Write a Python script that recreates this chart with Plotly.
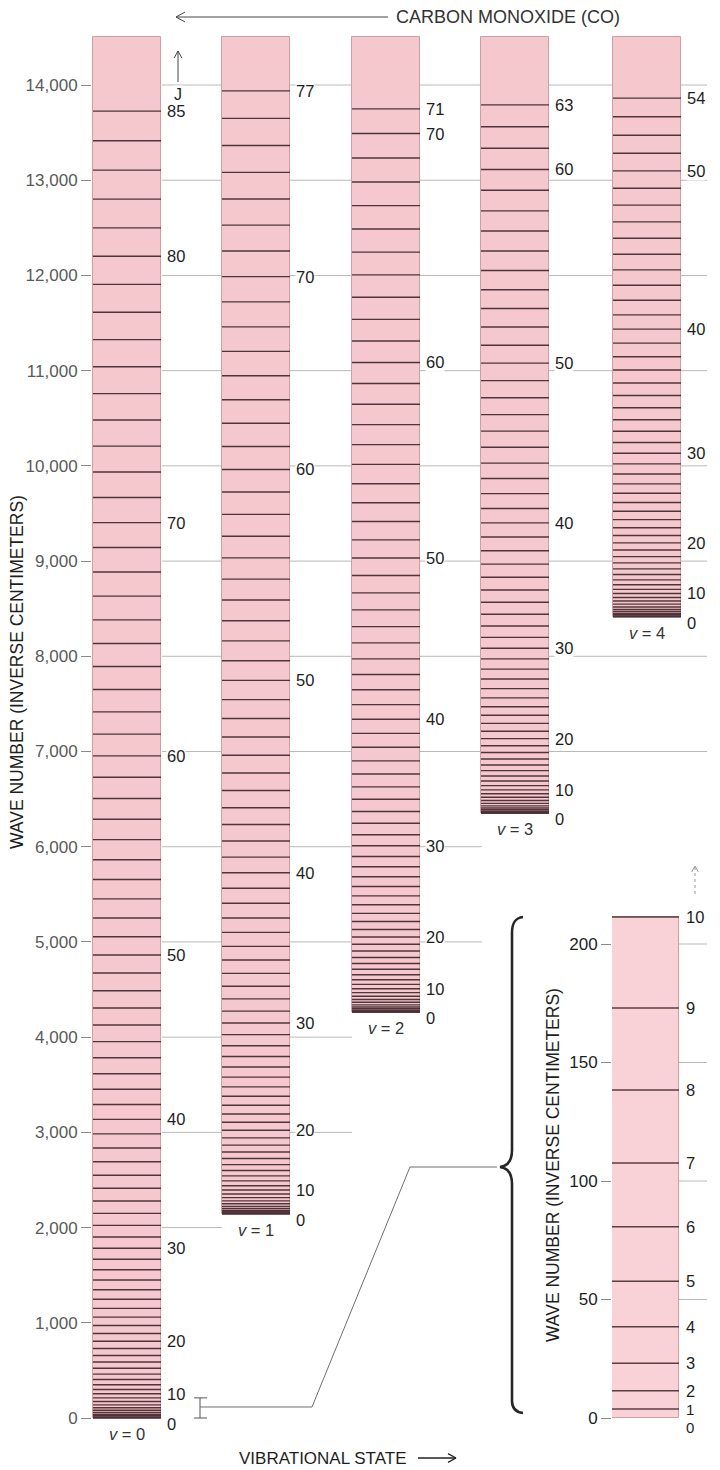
import plotly.graph_objects as go

W, H = 720, 1470

# Rotational levels (cm^-1) of carbon monoxide, J = 0 upward, per vibrational state
levels_v0 = [0, 4, 12, 23, 38, 58, 81, 108, 138, 173,
             211, 254, 300, 350, 404, 461, 523, 588, 657, 730,
             806, 887, 971, 1059, 1151, 1247, 1347, 1450, 1557, 1668,
             1783, 1901, 2023, 2149, 2279, 2413, 2550, 2691, 2836, 2984,
             3136, 3292, 3452, 3616, 3783, 3953, 4128, 4306, 4488, 4673,
             4863, 5055, 5252, 5452, 5656, 5863, 6074, 6289, 6507, 6729,
             6954, 7183, 7416, 7652, 7892, 8135, 8382, 8632, 8886, 9143,
             9404, 9668, 9936, 10207, 10481, 10759, 11041, 11326, 11614, 11906,
             12201, 12499, 12801, 13106, 13415, 13726]
levels_v1 = [2143, 2147, 2155, 2166, 2181, 2200, 2223, 2250, 2280, 2315,
             2353, 2395, 2440, 2490, 2543, 2600, 2661, 2726, 2794, 2866,
             2942, 3022, 3106, 3193, 3284, 3379, 3478, 3580, 3686, 3796,
             3910, 4027, 4148, 4273, 4402, 4534, 4670, 4810, 4953, 5100,
             5251, 5406, 5564, 5726, 5891, 6060, 6233, 6410, 6590, 6774,
             6961, 7152, 7347, 7545, 7747, 7953, 8162, 8374, 8591, 8810,
             9034, 9260, 9491, 9725, 9962, 10203, 10448, 10695, 10947, 11202,
             11460, 11722, 11987, 12256, 12528, 12803, 13082, 13364, 13650, 13938]
levels_v2 = [4260, 4264, 4271, 4283, 4298, 4317, 4339, 4366, 4396, 4430,
             4468, 4509, 4554, 4603, 4656, 4713, 4773, 4837, 4905, 4976,
             5052, 5131, 5214, 5300, 5390, 5484, 5582, 5684, 5789, 5898,
             6010, 6126, 6246, 6370, 6498, 6629, 6763, 6902, 7044, 7190,
             7339, 7492, 7649, 7809, 7973, 8141, 8312, 8487, 8666, 8848,
             9033, 9223, 9416, 9612, 9812, 10016, 10223, 10433, 10647, 10865,
             11086, 11311, 11539, 11771, 12006, 12245, 12487, 12733, 12982, 13234,
             13490, 13749]
levels_v3 = [6350, 6354, 6362, 6373, 6388, 6406, 6429, 6455, 6485, 6519,
             6556, 6597, 6642, 6691, 6743, 6799, 6859, 6922, 6989, 7060,
             7135, 7213, 7295, 7381, 7470, 7563, 7660, 7761, 7865, 7973,
             8084, 8199, 8318, 8441, 8567, 8697, 8830, 8968, 9108, 9253,
             9401, 9552, 9708, 9867, 10029, 10195, 10365, 10538, 10715, 10895,
             11079, 11267, 11458, 11652, 11850, 12052, 12257, 12466, 12678, 12894,
             13113, 13335, 13561, 13791]
levels_v4 = [8414, 8418, 8425, 8437, 8451, 8470, 8492, 8518, 8548, 8581,
             8618, 8659, 8703, 8751, 8803, 8859, 8918, 8981, 9047, 9117,
             9191, 9269, 9350, 9435, 9524, 9616, 9712, 9811, 9914, 10021,
             10132, 10246, 10364, 10485, 10610, 10739, 10871, 11007, 11146, 11289,
             11436, 11586, 11740, 11897, 12058, 12223, 12391, 12562, 12738, 12916,
             13098, 13284, 13473, 13666, 13862]
# Lowest levels of v = 0 on an expanded scale
levels_zoom = [0, 3.8, 11.5, 23.1, 38.5, 57.7, 80.7, 107.6, 138.4, 173.0, 211.4]

states = ["0", "1", "2", "3", "4"]
column_levels = [levels_v0, levels_v1, levels_v2, levels_v3, levels_v4]
column_top = 14505

# J numbers printed beside each column and the level row each one sits on
labels_v0 = [85, 80, 70, 60, 50, 40, 30, 20, 10, 0]
rows_v0 = [85, 80, 70, 60, 50, 40, 30, 20, 10, 0]
labels_v1 = [77, 70, 60, 50, 40, 30, 20, 10, 0]
rows_v1 = [79, 72, 64, 54, 43, 32, 21, 10, 0]
labels_v2 = [71, 70, 60, 50, 40, 30, 20, 10, 0]
rows_v2 = [71, 70, 60, 50, 40, 30, 20, 10, 0]
labels_v3 = [63, 60, 50, 40, 30, 20, 10, 0]
rows_v3 = [63, 60, 50, 40, 30, 20, 10, 0]
labels_v4 = [54, 50, 40, 30, 20, 10, 0]
rows_v4 = [54, 50, 40, 30, 20, 10, 0]
labels_zoom = [10, 9, 8, 7, 6, 5, 4, 3, 2, 1, 0]

main_ticks = [0, 1000, 2000, 3000, 4000, 5000, 6000, 7000, 8000, 9000,
              10000, 11000, 12000, 13000, 14000]
main_tick_text = ["0", "1,000", "2,000", "3,000", "4,000", "5,000", "6,000", "7,000",
                  "8,000", "9,000", "10,000", "11,000", "12,000", "13,000", "14,000"]
zoom_ticks = [0, 50, 100, 150, 200]

# ---- styling -------------------------------------------------------------
FONT = "Liberation Sans, Arial, Helvetica, sans-serif"
PINK = "#f5c8cd"
PINK_EDGE = "#d29ca4"
LEVEL = "#3f252b"
GRID = "#b9b9b9"
TEXT = "#1e1e1e"
TICK_TEXT = "#5a5a5a"

col_x = [127, 256, 386, 515, 647]
BAR_W = 68
zoom_x = 645.5
ZOOM_W = 67

label_sets = [(labels_v0, rows_v0), (labels_v1, rows_v1), (labels_v2, rows_v2),
              (labels_v3, rows_v3), (labels_v4, rows_v4)]


def px(x):
    return x / W


def py(y):
    return 1 - y / H


fig = go.Figure()

# pink columns
fig.add_trace(go.Bar(
    x=col_x, base=[lv[0] for lv in column_levels],
    y=[column_top - lv[0] for lv in column_levels], width=BAR_W,
    marker=dict(color=PINK, line=dict(color=PINK_EDGE, width=1)),
    hoverinfo="skip", xaxis="x", yaxis="y"))

# rotational level lines
xs, ys = [], []
for cx, lv in zip(col_x, column_levels):
    for e in lv:
        xs += [cx - BAR_W / 2, cx + BAR_W / 2, None]
        ys += [e, e, None]
fig.add_trace(go.Scatter(x=xs, y=ys, mode="lines",
                         line=dict(color=LEVEL, width=1.4),
                         opacity=0.9, hoverinfo="skip", xaxis="x", yaxis="y"))

# expanded column
fig.add_trace(go.Bar(
    x=[zoom_x], base=[levels_zoom[0]], y=[levels_zoom[-1] - levels_zoom[0]], width=ZOOM_W,
    marker=dict(color="#f8d2d6", line=dict(color=PINK_EDGE, width=1)),
    hoverinfo="skip", xaxis="x2", yaxis="y2"))
zx, zy = [], []
for e in levels_zoom[1:]:
    zx += [zoom_x - ZOOM_W / 2, zoom_x + ZOOM_W / 2, None]
    zy += [e, e, None]
fig.add_trace(go.Scatter(x=zx, y=zy, mode="lines",
                         line=dict(color=LEVEL, width=1.5),
                         opacity=0.85, hoverinfo="skip", xaxis="x2", yaxis="y2"))

shapes = []
# partial grid lines between columns
grid_runs = [(14000, 162, 707), (13000, 162, 707), (12000, 162, 707), (11000, 162, 707),
             (10000, 162, 707), (9000, 162, 707), (8000, 162, 707), (7000, 162, 707),
             (6000, 162, 482), (5000, 162, 482), (4000, 162, 352), (3000, 162, 352),
             (2000, 162, 222)]
for val, x0, x1 in grid_runs:
    shapes.append(dict(type="line", xref="x", yref="y", x0=x0, x1=x1, y0=val, y1=val,
                       line=dict(color=GRID, width=1), layer="below"))
for val in zoom_ticks[1:]:
    shapes.append(dict(type="line", xref="x2", yref="y2", x0=zoom_x + ZOOM_W / 2, x1=707,
                       y0=val, y1=val, line=dict(color=GRID, width=1), layer="below"))

# bracket marking the expanded range on v = 0
for y_val in (levels_zoom[0], levels_zoom[-1]):
    shapes.append(dict(type="line", xref="x", yref="y", x0=194, x1=207, y0=y_val, y1=y_val,
                       line=dict(color="#555", width=1)))
shapes.append(dict(type="line", xref="x", yref="y", x0=200, x1=200,
                   y0=levels_zoom[0], y1=levels_zoom[-1], line=dict(color="#555", width=1)))

# connector to the brace
conn = [(200, 1407), (312, 1407), (410, 1167), (497, 1167)]
path = "M " + " L ".join(f"{px(a):.5f},{py(b):.5f}" for a, b in conn)
shapes.append(dict(type="path", xref="paper", yref="paper", path=path,
                   line=dict(color="#6e6e6e", width=1)))


# curly brace
def P(a, b):
    return f"{px(a):.5f},{py(b):.5f}"


brace = ("M " + P(523, 917) + " C " + P(515, 918) + " " + P(512, 923) + " " + P(512, 933) +
         " L " + P(512, 1150) + " C " + P(512, 1160) + " " + P(508, 1166) + " " + P(500, 1167) +
         " C " + P(508, 1168) + " " + P(512, 1174) + " " + P(512, 1184) +
         " L " + P(512, 1401) + " C " + P(512, 1408) + " " + P(515, 1412) + " " + P(523, 1413))
shapes.append(dict(type="path", xref="paper", yref="paper", path=brace,
                   line=dict(color="#262626", width=2.6)))


# arrows
def arrow(x0, y0, x1, y1, color="#333", width=1, dash="solid", head=7):
    out = [dict(type="line", xref="paper", yref="paper", x0=px(x0), y0=py(y0),
                x1=px(x1), y1=py(y1), line=dict(color=color, width=width, dash=dash))]
    dx, dy = x1 - x0, y1 - y0
    n = (dx * dx + dy * dy) ** 0.5
    ux, uy = dx / n, dy / n
    for s in (1, -1):
        hx = x1 - head * ux + s * head * 0.55 * (-uy)
        hy = y1 - head * uy + s * head * 0.55 * ux
        out.append(dict(type="line", xref="paper", yref="paper", x0=px(hx), y0=py(hy),
                        x1=px(x1), y1=py(y1), line=dict(color=color, width=width)))
    return out


shapes += arrow(388, 17, 176, 17, color="#444", width=1, head=9)
shapes += arrow(178, 82, 178, 51, color="#444", width=1, head=7)
shapes += arrow(418, 1458, 456, 1458, color="#222", width=1.3, head=8)
shapes += arrow(695, 894, 695, 866, color="#999", width=1, dash="dot", head=6)

annotations = []


def note(text, x, y, xref="paper", yref="paper", size=16, color=TEXT, xanchor="center",
         yanchor="middle", angle=0, yshift=0, bg=None):
    a = dict(text=text, x=x, y=y, xref=xref, yref=yref, showarrow=False,
             font=dict(family=FONT, size=size, color=color), xanchor=xanchor,
             yanchor=yanchor, textangle=angle, yshift=yshift, borderpad=0)
    if bg:
        a["bgcolor"] = bg
    annotations.append(a)


# J labels beside each column
for (lab, rows), cx, lv, st in zip(label_sets, col_x, column_levels, states):
    for t, r in zip(lab, rows):
        shift = 0
        if t == 0:
            shift = -6
        elif t == 10:
            shift = 4
        note(str(t), cx + BAR_W / 2 + 5, lv[r], xref="x", yref="y", xanchor="left",
             yshift=shift, bg="white", size=16.5)
    note(f"<i>v</i> = {st}", cx, lv[0], xref="x", yref="y",
         yanchor="top", yshift=-6, color="#333", size=16.5)

for t, e in zip(labels_zoom, levels_zoom[::-1]):
    note(str(t), zoom_x + ZOOM_W / 2 + 6, e, xref="x2", yref="y2", xanchor="left",
         yshift=(-9 if t == 0 else 0), size=16.5 if t > 1 else 15)

note("J", px(178), py(95), size=16, bg="white")
note("CARBON MONOXIDE (CO)", px(395), py(17), xanchor="left", size=18, color="#333")
note("VIBRATIONAL STATE", px(238), py(1458), xanchor="left", size=17)
note("WAVE NUMBER (INVERSE CENTIMETERS)", px(17), py(672), angle=-90, size=17.5)
note("WAVE NUMBER (INVERSE CENTIMETERS)", px(553), py(1165), angle=-90, size=17.5)

# axis ranges chosen so 0 sits at the column feet
main_rng = [-546.1, 14892.8]
zoom_rng = [-21.94, 598.31]

fig.update_layout(
    width=W, height=H, margin=dict(l=0, r=0, t=0, b=0),
    paper_bgcolor="white", plot_bgcolor="rgba(0,0,0,0)", showlegend=False,
    bargap=0, shapes=shapes, annotations=annotations,
    xaxis=dict(domain=[px(92), 1], range=[92, 720], visible=False, fixedrange=True),
    yaxis=dict(anchor="x", range=main_rng, tickvals=main_ticks, ticktext=main_tick_text,
               ticks="outside", ticklen=10, tickcolor="#8a8a8a", tickwidth=1,
               showgrid=False, zeroline=False, showline=False,
               tickfont=dict(family=FONT, size=17, color=TICK_TEXT)),
    xaxis2=dict(domain=[px(612), 1], range=[612, 720], visible=False, anchor="y2"),
    yaxis2=dict(anchor="x2", range=zoom_rng, tickvals=zoom_ticks,
                ticks="outside", ticklen=10, tickcolor="#8a8a8a", tickwidth=1,
                showgrid=False, zeroline=False, showline=False,
                tickfont=dict(family=FONT, size=17, color=TEXT)),
)

fig.write_html("out.html")
